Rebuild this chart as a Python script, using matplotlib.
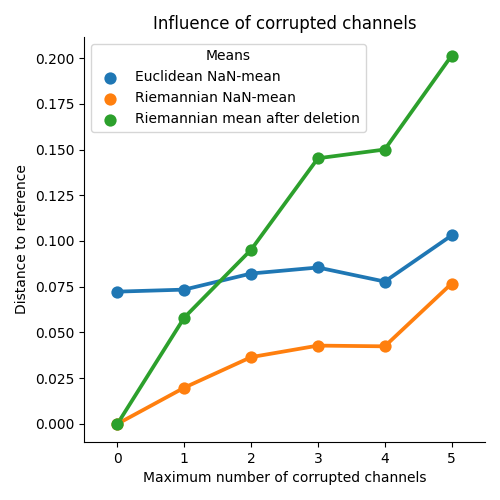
#!/usr/bin/env python3
"""Point plot: distance to reference vs number of corrupted channels."""

import matplotlib
matplotlib.use("Agg")
import matplotlib.pyplot as plt

n_corrupted = [0, 1, 2, 3, 4, 5]
euclidean_nanmean = [0.0723, 0.0734, 0.0822, 0.0855, 0.0778, 0.1030]
riemann_nanmean = [0.0000, 0.0198, 0.0365, 0.0428, 0.0424, 0.0767]
riemann_deletion = [0.0000, 0.0581, 0.0952, 0.1452, 0.1500, 0.2013]

series = [
    ("Euclidean NaN-mean", euclidean_nanmean, "#1f77b4"),
    ("Riemannian NaN-mean", riemann_nanmean, "#ff7f0e"),
    ("Riemannian mean after deletion", riemann_deletion, "#2ca02c"),
]

fig = plt.figure(figsize=(5, 5), dpi=100)
ax = fig.add_axes([0.168, 0.116, 0.802, 0.810])

pos = list(range(len(n_corrupted)))
for label, vals, color in series:
    ax.plot(pos, vals, color=color, linewidth=2.7, zorder=2)
    ax.scatter(pos, vals, color=color, s=78, zorder=3, label=label, linewidths=0)

ax.set_xticks(pos)
ax.set_xticklabels([str(v) for v in n_corrupted])
ax.set_xlim(-0.5, 5.5)
ax.set_ylim(-0.0099, 0.2115)
ax.set_yticks([0.0, 0.025, 0.05, 0.075, 0.1, 0.125, 0.15, 0.175, 0.2])
ax.yaxis.set_major_formatter(plt.FormatStrFormatter("%.3f"))
ax.spines["top"].set_visible(False)
ax.spines["right"].set_visible(False)

ax.set_title("Influence of corrupted channels")
ax.set_xlabel("Maximum number of corrupted channels")
ax.set_ylabel("Distance to reference")
ax.legend(title="Means", loc="upper left")

fig.savefig("out.png", dpi=100)
